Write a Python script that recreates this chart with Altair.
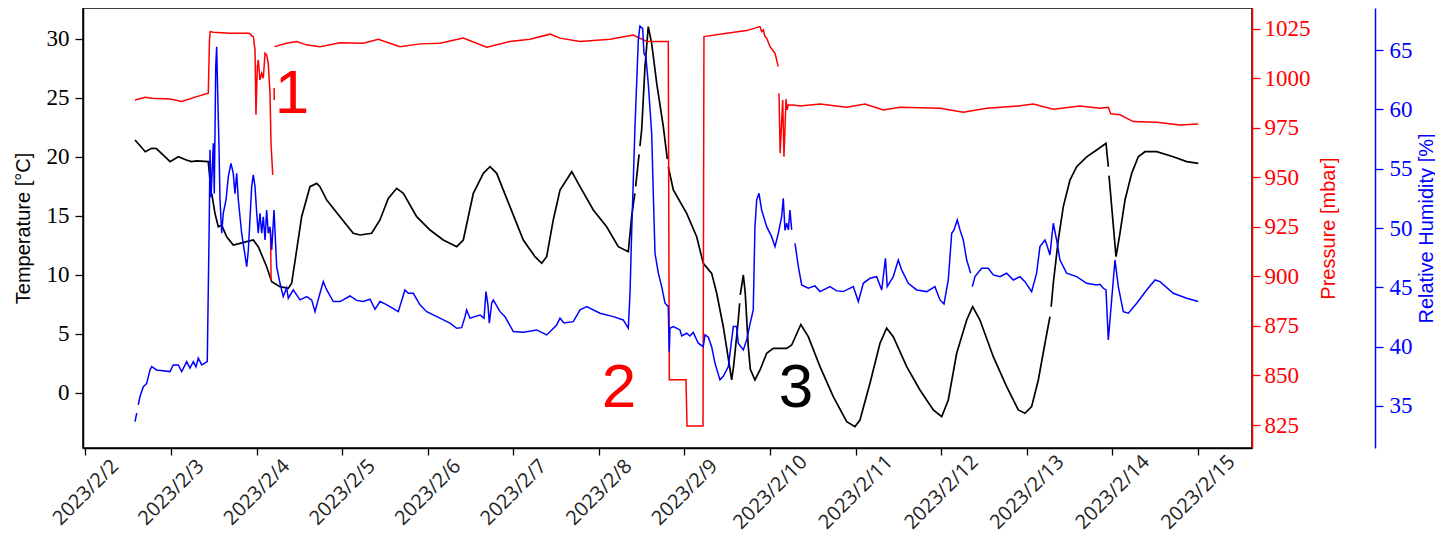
import altair as alt
import pandas as pd
from datetime import datetime, timedelta

# (day of February 2023, value); None marks a gap in the record
temperature = [
    (2.580, 21.42), (2.700, 20.43), (2.775, 20.72), (2.830, 20.70), (2.910, 20.15), (2.990, 19.59),
    (3.085, 20.00), (3.180, 19.73), (3.240, 19.59), (3.300, 19.65), (3.436, 19.59), (3.456, 18.03), None,
    (3.476, 16.90), (3.514, 15.21), (3.553, 14.08), (3.593, 14.22), (3.651, 13.23), (3.728, 12.53),
    (3.807, 12.67), (3.885, 12.81), (3.962, 12.95), (4.020, 12.39), (4.118, 10.69), (4.177, 9.42),
    (4.274, 9.00), (4.371, 8.86), (4.410, 9.29), (4.469, 12.11), (4.527, 14.93), (4.624, 17.47),
    (4.703, 17.75), (4.741, 17.47), (4.820, 16.34), (4.975, 14.93), (5.130, 13.52), (5.209, 13.38),
    (5.345, 13.52), (5.442, 14.65), (5.539, 16.48), (5.638, 17.33), (5.715, 16.91), (5.871, 14.93),
    (6.027, 13.80), (6.182, 12.95), (6.339, 12.39), (6.416, 12.95), (6.533, 16.91), (6.650, 18.60),
    (6.728, 19.16), (6.806, 18.60), (6.961, 15.78), (7.117, 12.95), (7.254, 11.54), (7.332, 10.98),
    (7.390, 11.54), (7.467, 14.65), (7.546, 17.19), (7.683, 18.74), (7.780, 17.47), (7.935, 15.50),
    (8.091, 14.08), (8.227, 12.39), (8.344, 11.96), (8.383, 14.93), (8.420, 16.90), None,
    (8.430, 17.50), (8.470, 20.20), None,
    (8.480, 20.90), (8.500, 22.27), (8.539, 27.63), (8.577, 31.02), (8.617, 29.60), (8.676, 26.22),
    (8.753, 22.55), (8.800, 19.80), None,
    (8.811, 19.16), (8.870, 17.19), (9.026, 15.21), (9.143, 13.23), (9.220, 10.98), (9.318, 10.13),
    (9.377, 8.44), (9.454, 5.61), (9.552, 1.10), (9.575, 2.30), (9.610, 4.80), (9.629, 6.18),
    (9.645, 7.60), None,
    (9.652, 8.30), (9.688, 9.99), (9.710, 8.50), (9.746, 3.92), (9.770, 2.00), (9.824, 1.10),
    (9.883, 1.95), (9.961, 3.36), (10.038, 3.78), (10.195, 3.78), (10.253, 4.06), (10.360, 5.80),
    (10.447, 4.77), (10.584, 2.23), (10.739, -0.31), (10.896, -2.43), (10.993, -2.85), (11.051, -2.29),
    (11.168, 0.82), (11.285, 4.21), (11.363, 5.48), (11.440, 4.77), (11.597, 2.23), (11.752, 0.25),
    (11.908, -1.44), (12.006, -2.01), (12.083, -0.59), (12.181, 3.36), (12.298, 6.18), (12.368, 7.31),
    (12.453, 6.18), (12.609, 3.07), (12.765, 0.53), (12.901, -1.44), (12.979, -1.72), (13.057, -1.16),
    (13.135, 1.10), (13.213, 4.21), (13.271, 6.46), None,
    (13.285, 7.30), (13.310, 9.29), (13.368, 12.95), (13.427, 15.78), (13.505, 18.03), (13.583, 19.16),
    (13.700, 20.00), (13.817, 20.57), (13.926, 21.14), (13.953, 19.16), None,
    (13.961, 18.40), (14.043, 11.54), (14.089, 13.52), (14.148, 16.34), (14.226, 18.60), (14.303, 20.00),
    (14.381, 20.43), (14.518, 20.43), (14.712, 20.00), (14.869, 19.59), (15.004, 19.45),
]

pressure = [
    (2.580, 989.0), (2.700, 990.4), (2.780, 989.9), (2.990, 989.5), (3.125, 988.2), (3.300, 990.7),
    (3.436, 992.4), (3.450, 1019.3), (3.458, 1023.5), (3.495, 1023.2), (3.690, 1022.7), (3.904, 1022.7),
    (3.923, 1022.4), (3.943, 1021.5), (3.962, 1021.0), (3.982, 1014.3), (3.993, 981.5), (4.009, 1005.8),
    (4.020, 1009.2), (4.040, 999.1), (4.060, 1002.5), (4.079, 1000.0), (4.099, 1012.6), (4.118, 1011.7),
    (4.137, 1007.5), (4.157, 992.4), (4.169, 967.2), (4.189, 951.2), None,
    (4.163, 923.4), (4.170, 898.2), None,
    (4.205, 995.0), (4.207, 989.0), None,
    (4.210, 1015.9), (4.350, 1017.6), (4.470, 1018.5), (4.580, 1016.8), (4.741, 1015.9), (4.975, 1017.9),
    (5.247, 1017.6), (5.423, 1019.6), (5.676, 1015.9), (5.910, 1017.3), (6.143, 1017.6), (6.416, 1020.2),
    (6.689, 1015.6), (6.961, 1018.5), (7.195, 1019.6), (7.429, 1022.2), (7.546, 1020.2), (7.780, 1018.5),
    (8.130, 1019.6), (8.402, 1021.8), (8.559, 1018.5), (8.811, 1018.5), (8.823, 847.8), (9.018, 847.8),
    (9.030, 824.5), (9.217, 824.5), (9.228, 1021.0), (9.494, 1022.7), (9.727, 1024.0), (9.883, 1026.0),
    (9.902, 1023.5), (9.922, 1024.3), (9.941, 1021.0), (9.961, 1020.2), (10.000, 1015.9), (10.058, 1012.6),
    (10.096, 1005.8), None,
    (10.105, 992.4), (10.118, 962.1), (10.148, 989.0), (10.163, 960.4), (10.187, 989.5), (10.200, 984.0),
    (10.213, 986.5), (10.272, 986.5), (10.350, 986.0), (10.584, 987.0), (10.896, 985.3), (11.110, 987.0),
    (11.323, 984.0), (11.519, 985.3), (11.986, 984.8), (12.258, 982.8), (12.532, 984.8), (12.901, 986.0),
    (13.076, 986.9), (13.310, 984.3), (13.622, 986.0), (13.856, 984.8), (13.953, 985.3), (13.981, 982.0),
    (14.089, 981.5), (14.245, 978.1), (14.518, 977.8), (14.790, 976.4), (15.004, 976.9),
]

humidity = [
    (2.580, 33.68), (2.600, 34.40), None,
    (2.618, 35.10), (2.638, 35.80), (2.677, 36.63), (2.716, 36.90), (2.755, 38.04), (2.775, 38.32),
    (2.833, 38.04), (2.989, 37.90), (3.027, 38.46), (3.086, 38.46), (3.125, 37.90), (3.184, 38.74),
    (3.222, 38.19), (3.261, 38.74), (3.292, 38.30), (3.319, 39.03), (3.359, 38.46), (3.424, 38.74),
    (3.448, 50.95), (3.456, 56.60), (3.468, 52.60), (3.495, 57.14), (3.506, 52.90), (3.523, 63.60),
    (3.534, 65.28), (3.544, 62.00), (3.561, 56.85), (3.573, 52.36), (3.593, 49.56), (3.611, 51.24),
    (3.643, 52.36), (3.670, 54.33), (3.701, 55.45), (3.728, 54.60), (3.748, 52.90), (3.768, 54.61),
    (3.787, 52.36), (3.826, 49.56), (3.885, 46.74), (3.904, 48.15), (3.943, 53.48), (3.962, 54.47),
    (3.982, 53.50), (4.002, 51.24), (4.020, 49.56), (4.040, 51.24), (4.060, 49.56), (4.079, 50.95),
    (4.099, 48.99), (4.118, 51.52), (4.137, 49.56), (4.157, 50.10), (4.177, 48.15), (4.204, 51.52),
    (4.235, 46.74), (4.274, 45.34), (4.312, 44.22), (4.352, 44.96), (4.371, 44.08), (4.429, 44.78),
    (4.508, 43.94), (4.586, 44.22), (4.644, 43.94), (4.683, 42.95), (4.741, 44.50), (4.780, 45.48),
    (4.820, 44.78), (4.897, 43.80), (4.975, 43.80), (5.092, 44.27), (5.170, 43.90), (5.247, 43.80),
    (5.326, 44.00), (5.384, 43.15), (5.442, 43.80), (5.501, 43.60), (5.559, 43.37), (5.656, 42.95),
    (5.734, 44.78), (5.773, 44.50), (5.831, 44.50), (5.910, 43.52), (5.988, 42.95), (6.143, 42.40),
    (6.260, 41.98), (6.339, 41.55), (6.397, 41.60), (6.436, 42.53), (6.455, 43.10), (6.494, 42.40),
    (6.611, 42.67), (6.658, 42.40), (6.681, 44.64), (6.704, 43.50), (6.720, 41.98), (6.748, 43.66),
    (6.766, 43.94), (6.845, 42.95), (6.903, 42.53), (7.000, 41.27), (7.117, 41.21), (7.273, 41.41),
    (7.390, 40.99), (7.449, 41.41), (7.507, 41.83), (7.546, 42.40), (7.593, 42.00), (7.701, 42.11),
    (7.780, 43.10), (7.858, 43.37), (8.013, 42.82), (8.169, 42.53), (8.285, 42.25), (8.344, 41.55),
    (8.364, 44.50), (8.383, 49.56), (8.422, 58.54), (8.461, 65.84), (8.480, 67.02), (8.512, 66.80),
    (8.527, 64.72), (8.550, 64.40), (8.577, 62.19), (8.617, 57.98), (8.636, 52.90), (8.656, 47.87),
    (8.695, 46.19), (8.734, 45.06), (8.773, 43.66), (8.811, 43.37), (8.823, 39.58), (8.831, 41.55),
    (8.870, 41.69), (8.948, 41.41), (8.968, 40.90), (9.026, 41.13), (9.064, 40.90), (9.103, 41.20),
    (9.162, 40.29), (9.220, 40.00), (9.240, 40.99), (9.279, 40.80), (9.318, 40.00), (9.357, 38.60),
    (9.415, 37.20), (9.454, 37.50), (9.513, 38.32), (9.571, 41.69), (9.610, 41.69), (9.629, 40.29),
    (9.688, 39.72), (9.727, 40.57), (9.766, 41.90), (9.804, 43.10), (9.824, 50.11), (9.844, 52.36),
    (9.871, 52.92), (9.902, 51.52), (9.961, 50.11), (10.019, 49.27), (10.058, 48.43), (10.097, 49.56),
    (10.136, 50.95), (10.155, 52.50), (10.175, 49.80), (10.195, 50.40), (10.214, 49.84), (10.233, 51.52),
    (10.253, 49.84), None,
    (10.292, 48.71), (10.331, 46.74), (10.370, 45.20), (10.447, 44.92), (10.525, 45.12), (10.584, 44.64),
    (10.700, 45.06), (10.779, 44.70), (10.856, 44.64), (10.973, 45.06), (11.032, 43.80), (11.090, 45.34),
    (11.168, 45.76), (11.246, 45.90), (11.305, 44.78), (11.349, 47.45), (11.370, 45.06), (11.440, 45.90),
    (11.499, 47.30), (11.538, 46.47), (11.616, 45.34), (11.714, 44.78), (11.831, 44.64), (11.927, 45.06),
    (11.986, 43.94), (12.033, 43.60), (12.083, 45.62), (12.123, 49.56), (12.150, 49.84), (12.188, 50.68),
    (12.220, 49.84), (12.258, 48.99), (12.298, 47.30), (12.345, 46.19), None,
    (12.364, 45.06), (12.395, 45.90), (12.473, 46.61), (12.550, 46.61), (12.609, 46.05), (12.687, 45.90),
    (12.765, 46.19), (12.843, 45.62), (12.921, 45.90), (12.979, 45.48), (13.057, 44.64), (13.115, 46.19),
    (13.154, 48.43), (13.213, 48.99), (13.233, 48.60), (13.271, 47.73), (13.310, 50.40), (13.349, 48.99),
    (13.388, 47.30), (13.466, 46.19), (13.583, 45.90), (13.700, 45.34), (13.817, 45.20), (13.856, 45.25),
    (13.895, 44.92), (13.926, 44.78), (13.953, 40.57), (13.992, 43.94), (14.031, 47.30), (14.070, 45.06),
    (14.128, 42.95), (14.187, 42.82), (14.285, 43.66), (14.401, 44.78), (14.499, 45.62), (14.557, 45.48),
    (14.712, 44.50), (14.869, 44.08), (15.004, 43.80),
]

note_labels = ["1", "2", "3"]
note_days = [4.414, 8.235, 10.302]
note_temps = [25.3, 0.45, 0.45]

tick_days = list(range(2, 16))
temp_ticks = [0, 5, 10, 15, 20, 25, 30]
pres_ticks = [825, 850, 875, 900, 925, 950, 975, 1000, 1025]
hum_ticks = [35, 40, 45, 50, 55, 60, 65]

BASE = datetime(2023, 2, 1)


def when(day):
    return BASE + timedelta(days=day - 1)


def iso(day):
    return when(day).strftime("%Y-%m-%dT%H:%M:%S")


def dt(day):
    d = when(day)
    return alt.DateTime(year=d.year, month=d.month, date=d.day,
                        hours=d.hour, minutes=d.minute, seconds=d.second)


def frame(readings):
    rows, seg = [], 0
    for r in readings:
        if r is None:
            seg += 1
            continue
        rows.append({"t": iso(r[0]), "v": r[1], "seg": seg})
    return pd.DataFrame(rows)


temp_df = frame(temperature)
pres_df = frame(pressure)
hum_df = frame(humidity)
note_df = pd.DataFrame({"t": [iso(d) for d in note_days], "v": note_temps, "label": note_labels})

RED = "#ff0000"
BLUE = "#0000ff"
BLACK = "#000000"

x_enc = alt.X(
    "t:T",
    title=None,
    scale=alt.Scale(domain=[dt(1.972), dt(15.632)]),
    axis=alt.Axis(
        values=[alt.DateTime(year=2023, month=2, date=d) for d in tick_days],
        format="%Y/%-m/%-d",
        labelAngle=315,
        labelAlign="center",
        labelBaseline="middle",
        labelPadding=37,
        labelFont="Open Sans",
        labelFontSize=20,
        labelColor="#222222",
        labelFlush=False,
        labelOverlap=False,
        tickSize=7,
        tickWidth=1.3,
        tickColor=BLACK,
        domainColor=BLACK,
        domainWidth=1.5,
        grid=False,
    ),
)

temp_y = alt.Y(
    "v:Q",
    title="Temperature [°C]",
    scale=alt.Scale(domain=[-4.66, 32.6], nice=False, zero=False),
    axis=alt.Axis(
        orient="left", values=temp_ticks, grid=False, format="d",
        labelFont="Liberation Serif", labelFontSize=23, labelColor=BLACK, labelPadding=6,
        tickSize=8, tickWidth=1.3, tickColor=BLACK, domainColor=BLACK, domainWidth=1.5,
        titleFont="Liberation Sans", titleFontSize=20, titleFontWeight="normal",
        titleColor=BLACK, titlePadding=13,
    ),
)

temp_line = alt.Chart(temp_df).mark_line(color=BLACK, strokeWidth=1.7).encode(
    x=x_enc, y=temp_y, detail="seg:N"
)

notes = alt.Chart(note_df).mark_text(
    font="Liberation Sans", fontSize=62, align="center", baseline="middle"
).encode(
    x=x_enc,
    y=temp_y,
    text="label:N",
    color=alt.Color("label:N", scale=alt.Scale(domain=note_labels, range=[RED, RED, BLACK]), legend=None),
)

pres_line = alt.Chart(pres_df).mark_line(color=RED, strokeWidth=1.5).encode(
    x=x_enc,
    y=alt.Y(
        "v:Q",
        title="Pressure [mbar]",
        scale=alt.Scale(domain=[813.4, 1035.4], nice=False, zero=False),
        axis=alt.Axis(
            orient="right", values=pres_ticks, grid=False, format="d",
            labelFont="Liberation Serif", labelFontSize=23, labelColor=RED, labelPadding=4,
            tickSize=8, tickWidth=1.3, tickColor=RED, domainColor=RED, domainWidth=1.5,
            titleFont="Liberation Sans", titleFontSize=20, titleFontWeight="normal",
            titleColor=RED, titlePadding=8, titleAngle=270, titleBaseline="top",
        ),
    ),
    detail="seg:N",
)

hum_line = alt.Chart(hum_df).mark_line(color=BLUE, strokeWidth=1.5).encode(
    x=x_enc,
    y=alt.Y(
        "v:Q",
        title="Relative Humidity [%]",
        scale=alt.Scale(domain=[31.46, 68.54], nice=False, zero=False),
        axis=alt.Axis(
            orient="right", offset=123, values=hum_ticks, grid=False, format="d",
            labelFont="Liberation Serif", labelFontSize=23, labelColor=BLUE, labelPadding=6,
            tickSize=8, tickWidth=1.3, tickColor=BLUE, domainColor=BLUE, domainWidth=1.5,
            titleFont="Liberation Sans", titleFontSize=20, titleFontWeight="normal",
            titleColor=BLUE, titlePadding=4, titleAngle=270, titleBaseline="top",
        ),
    ),
    detail="seg:N",
)

chart = (
    alt.layer(alt.layer(temp_line, notes), pres_line, hum_line)
    .resolve_scale(y="independent")
    .properties(
        width=1169,
        height=440,
        padding={"left": 75, "top": 0, "right": 183, "bottom": 85},
        autosize=alt.AutoSizeParams(type="none"),
        background="white",
    )
    .configure_view(stroke=BLACK, strokeWidth=1.5)
)

chart.save("out.html", embed_options={"renderer": "svg", "actions": False})
